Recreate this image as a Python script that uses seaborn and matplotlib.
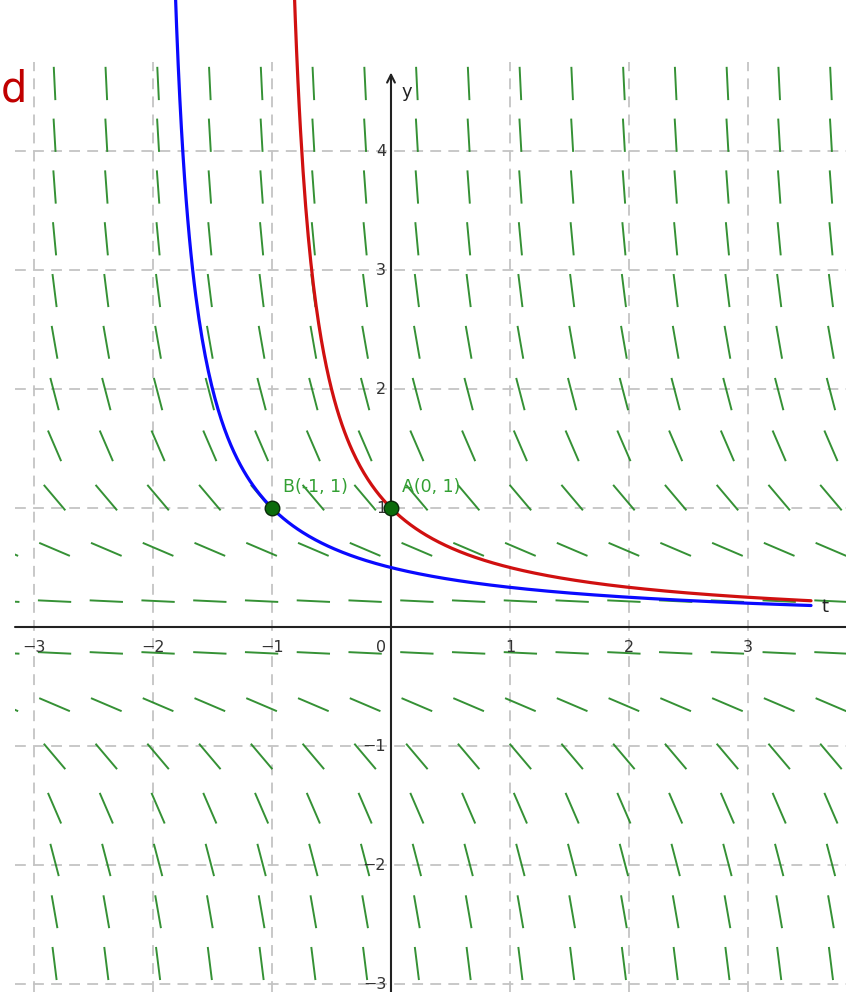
import numpy as np
import matplotlib
matplotlib.use('Agg')
import matplotlib.pyplot as plt
import seaborn as sns
import pandas as pd
from matplotlib.collections import LineCollection
from matplotlib.patches import Rectangle

sns.set_style('white')
plt.rcParams['font.family'] = ['DejaVu Sans']

# slope field of y' = -y^2, grid of sample points
field_t = [-3.2625, -2.8275, -2.3925, -1.9575, -1.5225, -1.0875, -0.6525, -0.2175,
           0.2175, 0.6525, 1.0875, 1.5225, 1.9575, 2.3925, 2.8275, 3.2625, 3.6975]
field_y = [-2.8275, -2.3925, -1.9575, -1.5225, -1.0875, -0.6525, -0.2175,
           0.2175, 0.6525, 1.0875, 1.5225, 1.9575, 2.3925, 2.8275, 3.2625, 3.6975,
           4.1325, 4.5675]
seg_len = 0.28

# solutions through A(0,1) and B(-1,1)
points = pd.DataFrame({'t': [0, -1], 'y': [1, 1], 'name': ['A(0, 1)', 'B(-1, 1)']})
t_end = 3.53
t_red = np.linspace(-0.815, t_end, 400)
t_blue = np.linspace(-1.815, t_end, 400)
curves = pd.concat([
    pd.DataFrame({'t': t_red, 'y': 1 / (t_red + 1), 'sol': 'A'}),
    pd.DataFrame({'t': t_blue, 'y': 1 / (t_blue + 2), 'sol': 'B'}),
])

x_ticks = [-3, -2, -1, 0, 1, 2, 3]
y_ticks = [-3, -2, -1, 1, 2, 3, 4]

xmin, xmax = -3.286, 3.824
ymin, ymax = -3.067, 5.269
view_left, view_top = -3.16, 4.75

fig = plt.figure(figsize=(8.46, 9.92), dpi=100)
ax = fig.add_axes([0, 0, 1, 1])
ax.set_xlim(xmin, xmax)
ax.set_ylim(ymin, ymax)
ax.axis('off')

clip = Rectangle((view_left, ymin), xmax - view_left, view_top - ymin,
                 transform=ax.transData, facecolor='none', edgecolor='none')
ax.add_patch(clip)

# grid
for gx in x_ticks:
    if gx == 0:
        continue
    ln, = ax.plot([gx, gx], [ymin, view_top], color='#c4c4c4', lw=1.3,
                  dashes=(6, 4), zorder=1)
    ln.set_clip_path(clip)
for gy in y_ticks:
    ln, = ax.plot([view_left, xmax], [gy, gy], color='#c4c4c4', lw=1.3,
                  dashes=(6, 4), zorder=1)
    ln.set_clip_path(clip)

# slope field segments
segs = []
for ty in field_y:
    slope = -ty ** 2
    ang = np.arctan(slope)
    dx = 0.5 * seg_len * np.cos(ang)
    dy = 0.5 * seg_len * np.sin(ang)
    for tx in field_t:
        segs.append([(tx - dx, ty - dy), (tx + dx, ty + dy)])
lc = LineCollection(segs, colors='#1f851f', linewidths=1.4, alpha=0.9, zorder=2)
ax.add_collection(lc)
lc.set_clip_path(clip)

# axes
ax.plot([view_left, xmax], [0, 0], color='#222222', lw=1.5, zorder=3)
ax.annotate('', xy=(0, 4.66), xytext=(0, ymin),
            arrowprops=dict(arrowstyle='->', color='#222222', lw=1.5,
                            mutation_scale=14, shrinkA=0, shrinkB=0), zorder=3)
ax.text(0.09, 4.5, 'y', fontsize=13, color='#222222', ha='left', va='center')
ax.text(3.62, 0.17, 't', fontsize=13, color='#222222', ha='left', va='center')

for gx in x_ticks:
    lx = gx - 0.08 if gx == 0 else gx
    ax.text(lx, -0.17, '0' if gx == 0 else str(gx).replace('-', '\u2212'),
            fontsize=11.5, color='#333333', ha='center', va='center', zorder=4)
for gy in y_ticks:
    ax.text(-0.04, gy, str(gy).replace('-', '\u2212'), fontsize=11.5,
            color='#333333', ha='right', va='center', zorder=4)

# solution curves
sns.lineplot(data=curves, x='t', y='y', hue='sol', palette={'A': '#d01010', 'B': '#0a0aff'},
             lw=2.3, legend=False, sort=False, estimator=None, ax=ax, zorder=5)
ax.set_xlim(xmin, xmax)
ax.set_ylim(ymin, ymax)

sns.scatterplot(data=points, x='t', y='y', s=110, color='#0b6b0b', edgecolor='#0a2a0a',
                linewidth=1.0, ax=ax, zorder=6, legend=False)
for _, r in points.iterrows():
    ax.text(r['t'] + 0.09, r['y'] + 0.18, r['name'], fontsize=12.5, color='#33a033',
            ha='left', va='center', zorder=7)

ax.set_xlabel('')
ax.set_ylabel('')

# title fragment from the neighbouring panel
fig.text(1 / 846, 1 - 90 / 992, 'd', fontsize=30, color='#c00000', ha='left', va='center')

fig.savefig('out.png', dpi=100)
